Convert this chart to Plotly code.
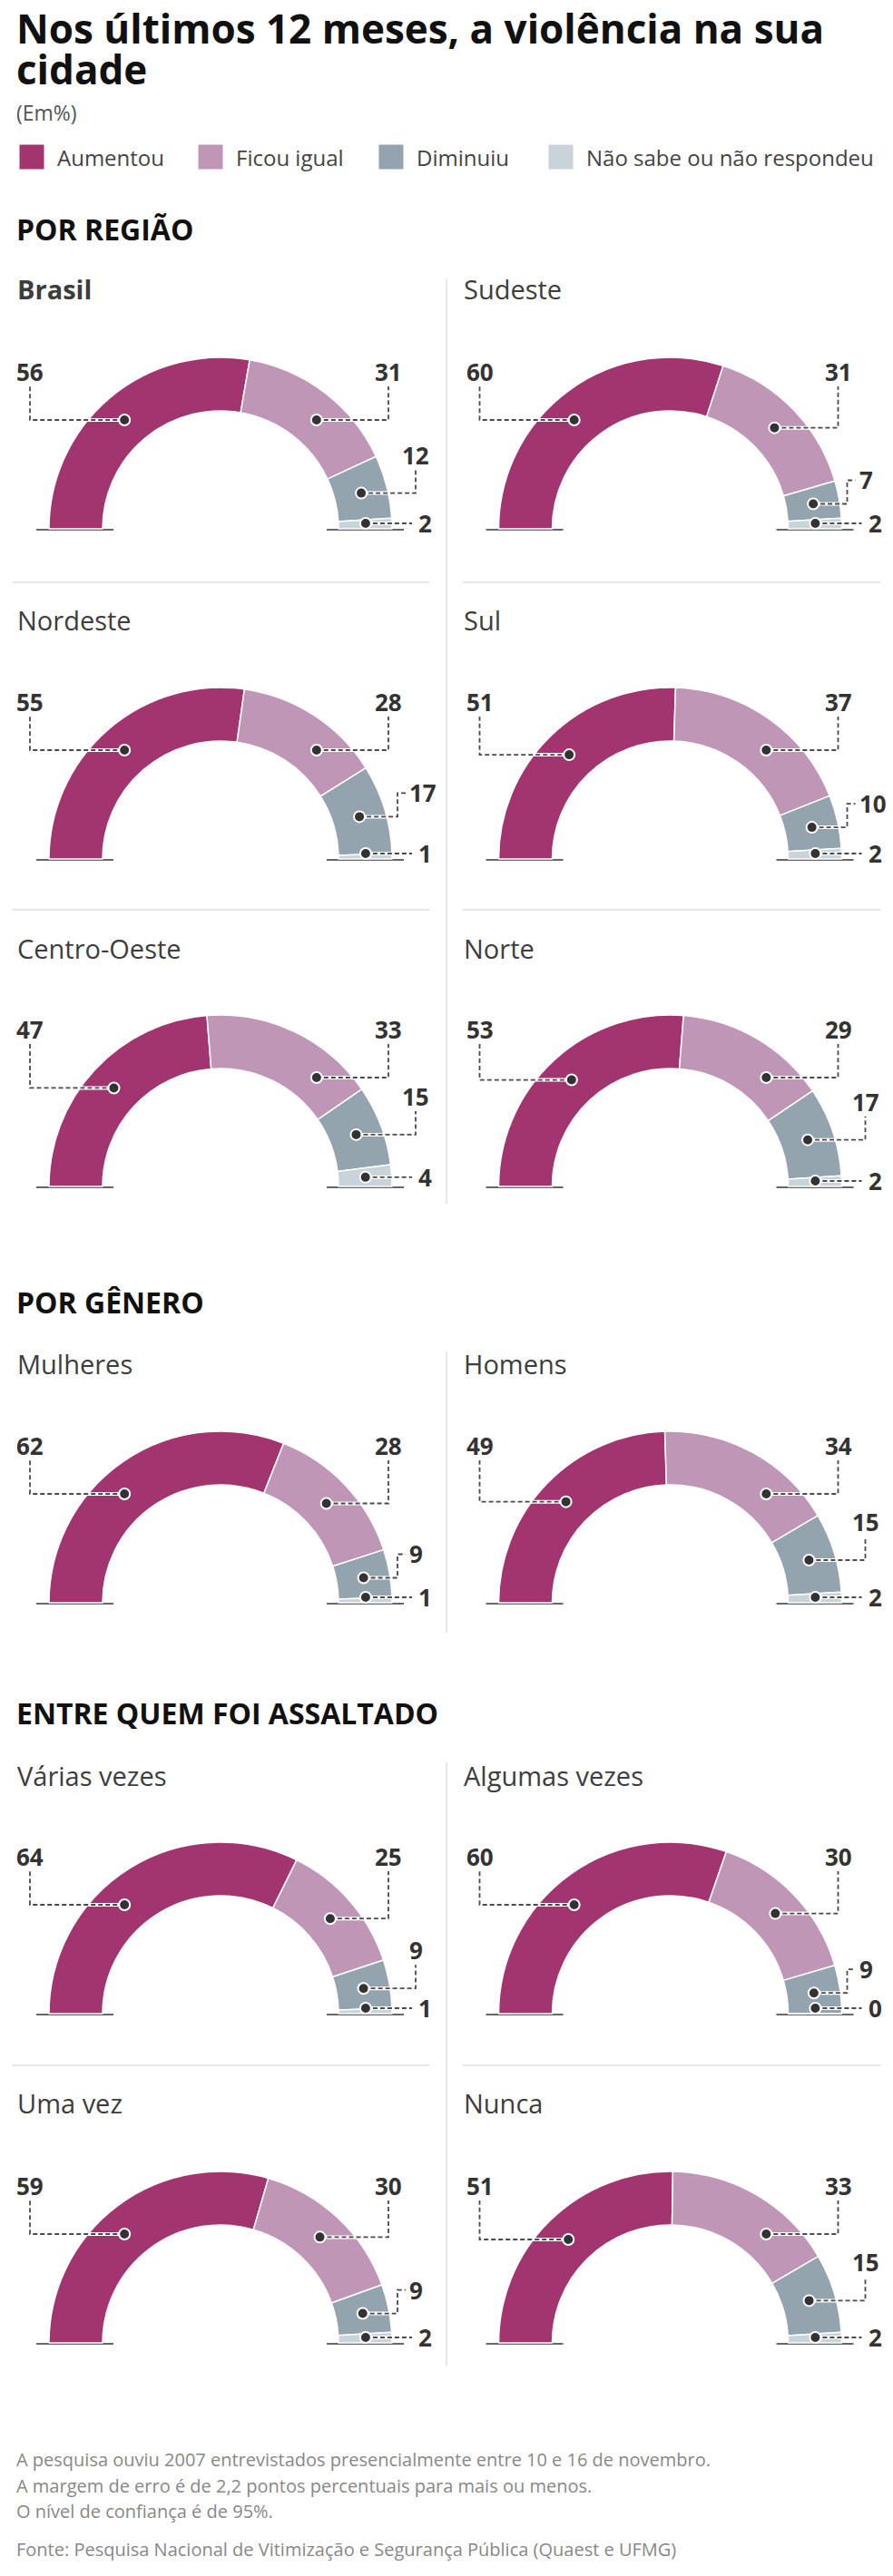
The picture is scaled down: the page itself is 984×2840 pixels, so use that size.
import math
import plotly.graph_objects as go

W, H = 984, 2840

categorias = ["Aumentou", "Ficou igual", "Diminuiu", "Não sabe ou não respondeu"]
cores = ["#a2356f", "#c096b6", "#93a4ae", "#c9d3da"]

regioes = ["Brasil", "Sudeste", "Nordeste", "Sul", "Centro-Oeste", "Norte"]
regiao_aumentou = [56, 60, 55, 51, 47, 53]
regiao_ficou = [31, 31, 28, 37, 33, 29]
regiao_diminuiu = [12, 7, 17, 10, 15, 17]
regiao_nao_sabe = [2, 2, 1, 2, 4, 2]

generos = ["Mulheres", "Homens"]
genero_aumentou = [62, 49]
genero_ficou = [28, 34]
genero_diminuiu = [9, 15]
genero_nao_sabe = [1, 2]

assaltos = ["Várias vezes", "Algumas vezes", "Uma vez", "Nunca"]
assalto_aumentou = [64, 60, 59, 51]
assalto_ficou = [25, 30, 30, 33]
assalto_diminuiu = [9, 9, 9, 15]
assalto_nao_sabe = [1, 0, 2, 2]

secoes = ["POR REGIÃO", "POR GÊNERO", "ENTRE QUEM FOI ASSALTADO"]
titulo = ["Nos últimos 12 meses, a violência na sua", "cidade"]

# layout (pixels)
R_OUT, R_IN, R_MID = 189, 130, 160
col_cx = [243, 738.5]
col_tx = [17, 509]
row_title_y = [318, 683, 1045, 1503, 1957, 2318]
row_base_y = [583, 947, 1308, 1767, 2220, 2583]
secao_y = [252, 1435, 1888]
# panels whose "Diminuiu" label sits beside the leader instead of above it
rotulo_lateral = {"Sudeste", "Nordeste", "Sul", "Mulheres", "Algumas vezes", "Uma vez"}

FONT = "Open Sans"
fig = go.Figure()
shapes = []
annotations = []


def txt(x, y, text, size, color, xanchor="left", bold=False):
    annotations.append(dict(
        x=x, y=y, xref="x", yref="y", text=f"<b>{text}</b>" if bold else text,
        showarrow=False, xanchor=xanchor, yanchor="middle",
        font=dict(family=FONT, size=size, color=color)))


def leader(pts):
    path = "M " + " L ".join(f"{px:.1f} {py:.1f}" for px, py in pts)
    shapes.append(dict(type="path", path=path, xref="x", yref="y", layer="above",
                       line=dict(color="white", width=4)))
    shapes.append(dict(type="path", path=path, xref="x", yref="y", layer="above",
                       line=dict(color="#4a4a4a", width=1.8, dash="5px,3px")))


def dot(x, y):
    r = 6
    shapes.append(dict(type="circle", xref="x", yref="y", layer="above",
                       x0=x - r, x1=x + r, y0=y - r, y1=y + r,
                       fillcolor="#333333", line=dict(color="white", width=2)))


def painel(nome, valores, col, row, bold=False):
    cx, base = col_cx[col], row_base_y[row]
    total = sum(valores)
    fig.add_trace(go.Pie(
        values=valores + [total], labels=categorias + ["_"], sort=False,
        direction="clockwise", rotation=-90, hole=R_IN / R_OUT,
        marker=dict(colors=cores + ["rgba(0,0,0,0)"],
                    line=dict(color="white", width=[1.5, 1.5, 1.5, 1.5, 0])),
        textinfo="none", hoverinfo="skip", showlegend=False,
        domain=dict(x=[(cx - R_OUT) / W, (cx + R_OUT) / W],
                    y=[1 - (base + R_OUT) / H, 1 - (base - R_OUT) / H])))

    txt(col_tx[col], row_title_y[row], nome, 29, "#3d3d3d", bold=bold)

    ang = 180.0
    for i, v in enumerate(valores):
        a1 = ang - v / total * 180
        mid = math.radians((ang + a1) / 2)
        ang = a1
        dx, dy = R_MID * math.cos(mid), R_MID * math.sin(mid)
        if i < 2 and dy > 120:
            dy = 120
            dx = math.copysign(math.sqrt(R_MID ** 2 - dy ** 2), dx)
        if i == 3 and dy < 6:
            dy = 6
            dx = math.sqrt(R_MID ** 2 - dy ** 2)
        x, y = cx + dx, base - dy
        if i == 0:
            lx = cx - 210
            leader([(x, y), (lx, y), (lx, base - 157)])
            txt(lx, base - 173, v, 26, "#333333", "center", True)
        elif i == 1:
            lx = cx + 185
            leader([(x, y), (lx, y), (lx, base - 157)])
            txt(lx, base - 173, v, 26, "#333333", "center", True)
        elif i == 2:
            if nome in rotulo_lateral:
                lx, ly = cx + 195, y - 26
                leader([(x, y), (lx, y), (lx, ly), (lx + 9, ly)])
                txt(lx + 11, ly, v, 26, "#333333", "left", True)
            else:
                lx, ly = cx + 215, y - 42
                leader([(x, y), (lx, y), (lx, ly + 16)])
                txt(lx, ly, v, 26, "#333333", "center", True)
        else:
            leader([(x, y), (cx + 211, y)])
            txt(cx + 216, y, v, 26, "#333333", "left", True)
        dot(x, y)


for k, nome in enumerate(regioes):
    painel(nome, [regiao_aumentou[k], regiao_ficou[k], regiao_diminuiu[k], regiao_nao_sabe[k]],
           k % 2, k // 2, bold=(nome == "Brasil"))
for k, nome in enumerate(generos):
    painel(nome, [genero_aumentou[k], genero_ficou[k], genero_diminuiu[k], genero_nao_sabe[k]],
           k % 2, 3)
for k, nome in enumerate(assaltos):
    painel(nome, [assalto_aumentou[k], assalto_ficou[k], assalto_diminuiu[k], assalto_nao_sabe[k]],
           k % 2, 4 + k // 2)

# grid separators
sx, sy = [], []
for y0, y1 in [(307, 1327), (1490, 1800), (1943, 2608)]:
    sx += [492, 492, None]
    sy += [y0, y1, None]
for y in [642, 1003, 2277]:
    sx += [14, 473, None, 510, 970, None]
    sy += [y, y, None, y, y, None]
fig.add_trace(go.Scatter(x=sx, y=sy, mode="lines", line=dict(color="#e6e6e6", width=2),
                         hoverinfo="skip", showlegend=False))

# base ticks under each half ring
bx, by = [], []
for base in row_base_y:
    for cx in col_cx:
        y = base + 1
        bx += [cx - 203, cx - 118, None, cx + 117, cx + 202, None]
        by += [y, y, None, y, y, None]
fig.add_trace(go.Scatter(x=bx, y=by, mode="lines", line=dict(color="#666666", width=2),
                         hoverinfo="skip", showlegend=False))

# legend
leg_x = [35, 232, 431, 618]
fig.add_trace(go.Scatter(x=leg_x, y=[173] * 4, mode="markers",
                         marker=dict(symbol="square", size=27, color=cores),
                         hoverinfo="skip", showlegend=False))
for lx, nome in zip(leg_x, categorias):
    txt(lx + 26, 173, nome, 24, "#444444")

# titles and notes
for linha, y in zip(titulo, [31, 76]):
    txt(16, y, linha, 44, "#111111", bold=True)
txt(16, 124, "(Em%)", 23, "#555555")
for s, y in zip(secoes, secao_y):
    txt(16, y, s, 32, "#111111", bold=True)

notas = ["A pesquisa ouviu 2007 entrevistados presencialmente entre 10 e 16 de novembro.",
         "A margem de erro é de 2,2 pontos percentuais para mais ou menos.",
         "O nível de confiança é de 95%."]
for n, y in zip(notas, [2711, 2740, 2768]):
    txt(16, y, n, 20, "#888888")
txt(16, 2810, "Fonte: Pesquisa Nacional de Vitimização e Segurança Pública (Quaest e UFMG)",
    20, "#888888")

fig.update_layout(
    width=W, height=H, margin=dict(l=0, r=0, t=0, b=0),
    paper_bgcolor="white", plot_bgcolor="white",
    xaxis=dict(range=[0, W], visible=False, fixedrange=True),
    yaxis=dict(range=[H, 0], visible=False, fixedrange=True),
    shapes=shapes, annotations=annotations, showlegend=False,
    font=dict(family=FONT),
)

fig.write_html("out.html", config={"displayModeBar": False},
               post_script="document.body.style.margin='0';")
